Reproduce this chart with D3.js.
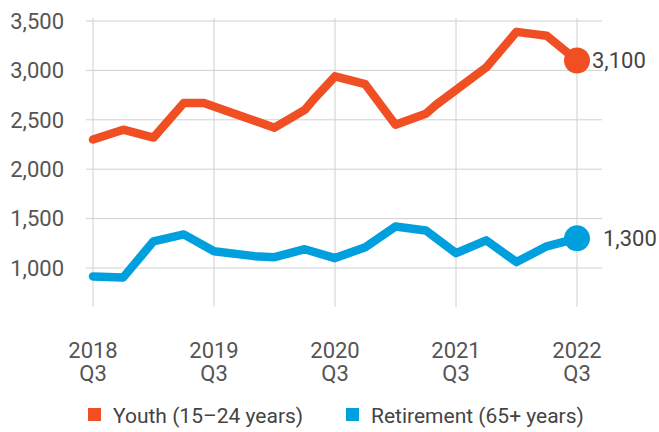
<!DOCTYPE html>
<html>
<head>
<meta charset="utf-8">
<script src="https://cdn.jsdelivr.net/npm/d3@7"></script>
<style>
  body { margin: 0; background: #fff; }
  svg { display: block; font-family: Roboto, "Liberation Sans", sans-serif; }
</style>
</head>
<body>
<div id="chart"></div>
<script>
// months counted from 2018 Q3 (July 2018)
const youthMonths = [0, 3, 6, 9, 11, 18, 21, 22, 24, 27, 30, 33, 34, 39, 42, 45, 48];
const youthValues = [2300, 2400, 2320, 2670, 2670, 2420, 2600, 2720, 2940, 2860, 2450, 2560, 2650, 3030, 3390, 3350, 3100];
const retireMonths = [0, 3, 6, 9, 12, 16, 18, 21, 24, 27, 30, 33, 36, 39, 42, 45, 48];
const retireValues = [915, 905, 1270, 1340, 1170, 1120, 1110, 1190, 1100, 1210, 1420, 1380, 1150, 1280, 1060, 1220, 1300];
const yearTicks = [0, 12, 24, 36, 48];
const yearLabels = ["2018", "2019", "2020", "2021", "2022"];
const yTicks = [1000, 1500, 2000, 2500, 3000, 3500];
const seriesNames = ["Youth (15\u201324 years)", "Retirement (65+ years)"];
const endLabels = ["3,100", "1,300"];

const width = 659, height = 432;
const orange = "#f04e23", blue = "#00a0df";

const svg = d3.select("#chart").append("svg")
  .attr("width", width)
  .attr("height", height);

const x = d3.scaleLinear().domain([0, 48]).range([93, 577]);
const y = d3.scaleLinear().domain([1000, 3500]).range([268, 21]);

// horizontal gridlines
svg.append("g")
  .selectAll("line")
  .data(yTicks)
  .join("line")
  .attr("x1", 86).attr("x2", 602)
  .attr("y1", d => y(d)).attr("y2", d => y(d))
  .attr("stroke", "#d0d0d0").attr("stroke-width", 1);

// vertical gridlines
svg.append("g")
  .selectAll("line")
  .data(yearTicks)
  .join("line")
  .attr("x1", d => x(d)).attr("x2", d => x(d))
  .attr("y1", 18).attr("y2", 307)
  .attr("stroke", "#d0d0d0").attr("stroke-width", 1);

// y axis labels
svg.append("g")
  .selectAll("text")
  .data(yTicks)
  .join("text")
  .attr("x", 64)
  .attr("y", d => y(d))
  .attr("dy", "0.35em")
  .attr("text-anchor", "end")
  .attr("font-size", 22)
  .attr("fill", "#555")
  .text(d => d3.format(",")(d));

// x axis labels (two lines)
const xl = svg.append("g")
  .selectAll("text")
  .data(yearTicks)
  .join("text")
  .attr("text-anchor", "middle")
  .attr("font-size", 22)
  .attr("fill", "#555");
xl.append("tspan").attr("x", d => x(d)).attr("y", 358).text((d, i) => yearLabels[i]);
xl.append("tspan").attr("x", d => x(d)).attr("y", 381).text("Q3");

const line = d3.line().x(d => x(d[0])).y(d => y(d[1]));

const series = [
  { months: retireMonths, values: retireValues, color: blue },
  { months: youthMonths, values: youthValues, color: orange }
];

series.forEach(s => {
  const pts = s.months.map((m, i) => [m, s.values[i]]);
  svg.append("path")
    .datum(pts)
    .attr("d", line)
    .attr("fill", "none")
    .attr("stroke", s.color)
    .attr("stroke-width", 8.5)
    .attr("stroke-linejoin", "round")
    .attr("stroke-linecap", "round");
  const last = pts[pts.length - 1];
  svg.append("circle")
    .attr("cx", x(last[0]))
    .attr("cy", y(last[1]))
    .attr("r", 13)
    .attr("fill", s.color);
});

// end value labels
svg.append("text")
  .attr("x", 592).attr("y", y(youthValues[youthValues.length - 1]))
  .attr("dy", "0.35em")
  .attr("font-size", 22).attr("fill", "#444")
  .text(endLabels[0]);
svg.append("text")
  .attr("x", 603).attr("y", y(retireValues[retireValues.length - 1]))
  .attr("dy", "0.35em")
  .attr("font-size", 22).attr("fill", "#444")
  .text(endLabels[1]);

// legend
const legend = [
  { name: seriesNames[0], color: orange, x: 88 },
  { name: seriesNames[1], color: blue, x: 346 }
];
legend.forEach(l => {
  svg.append("rect")
    .attr("x", l.x).attr("y", 408)
    .attr("width", 13).attr("height", 13)
    .attr("fill", l.color);
  svg.append("text")
    .attr("x", l.x + 25).attr("y", 423)
    .attr("font-size", 21).attr("fill", "#444")
    .text(l.name);
});
</script>
</body>
</html>
